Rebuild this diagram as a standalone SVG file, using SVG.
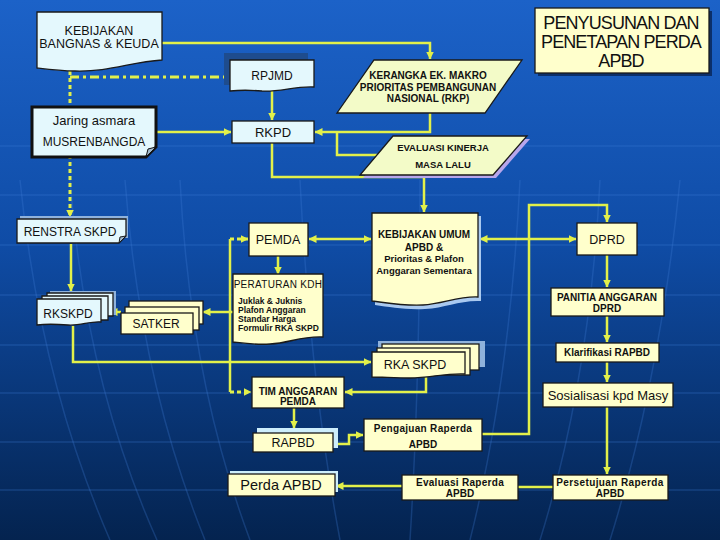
<svg xmlns="http://www.w3.org/2000/svg" width="720" height="540" viewBox="0 0 720 540">
<defs>
<linearGradient id="bgG" x1="0" y1="0" x2="0" y2="1">
<stop offset="0" stop-color="#1c62c8"/>
<stop offset="0.45" stop-color="#0f4ca6"/>
<stop offset="1" stop-color="#04234f"/>
</linearGradient>
<marker id="ah" viewBox="0 0 8 8" refX="7.5" refY="4" markerWidth="8" markerHeight="8" markerUnits="userSpaceOnUse" orient="auto-start-reverse">
<path d="M0,0 L8,4 L0,8 Z" fill="#e2f04a"/>
</marker>
<style>
.cy{fill:#e4f8fd;stroke:#1a1a1a;stroke-width:1.3}
.yl{fill:#ffffcc;stroke:#1a1a1a;stroke-width:1.3}
.pg{fill:#f3fbc8;stroke:#1a1a1a;stroke-width:1.3}
.sh{fill:#8fb2dc;stroke:none}
.shd{fill:#1e4c8e;stroke:none}
.ln{fill:none;stroke:#e2f04a;stroke-width:2.5}
.arr{marker-end:url(#ah)}
.both{marker-start:url(#ah);marker-end:url(#ah)}
.dot{stroke-dasharray:4 3;stroke-width:3}
.dd{stroke-dasharray:9 4 3 4;stroke-width:3}
text{font-family:"Liberation Sans",Arial,sans-serif;fill:#111;text-anchor:middle}
.b{font-weight:bold}
.grid{fill:none;stroke:#3f7fd6;stroke-opacity:0.28;stroke-width:1.5}
.big{font-size:18px;letter-spacing:-0.9px}
</style>
</defs>
<g id="background">
<rect x="0" y="0" width="720" height="540" fill="url(#bgG)"/>
<path class="grid" d="M0,146 H720 M0,195 H720 M0,245 H720 M0,295 H720 M0,345 H720 M0,393 H720 M0,442 H720 M0,490 H720"/>
<path class="grid" d="M20,180 Q40,380 110,540 M70,180 Q85,380 157,540 M125,180 Q140,380 205,540 M180,180 Q190,380 250,540 M300,180 Q310,380 340,540 M420,180 Q420,380 410,540 M520,180 Q510,380 470,540 M600,180 Q590,380 540,540 M680,180 Q660,380 610,540"/>
</g>
<g id="connectors">
<path class="ln arr" d="M162,43 H430 V59"/>
<path class="ln dd" d="M70,77 H230"/>
<path class="ln dot arr" d="M70,71 V217"/>
<path class="ln arr" d="M156,132 H231"/>
<path class="ln arr" d="M272,91 V120"/>
<path class="ln arr" d="M430,113 V132 H315"/>
<path class="ln" d="M378,155 H337 V132"/>
<path class="ln arr" d="M272,143 V177 H424 V212"/>
<path class="ln arr" d="M71,244 V291"/>
<path class="ln arr" d="M121,312 H110"/>
<path class="ln arr" d="M233,312 H203"/>
<path class="ln dot arr" d="M230,239 H248"/>
<path class="ln" d="M230,239 V392"/>
<path class="ln dot arr" d="M230,392 H251"/>
<path class="ln arr" d="M278,256 V274"/>
<path class="ln both" d="M309,239 H371"/>
<path class="ln both" d="M480,239 H576"/>
<path class="ln arr" d="M73,326 V362 H371"/>
<path class="ln arr" d="M426,377 V392 H345"/>
<path class="ln arr" d="M294,408 V428"/>
<path class="ln arr" d="M333,444 H349 V435 H363"/>
<path class="ln arr" d="M482,434 H529 V205 H607 V222"/>
<path class="ln arr" d="M607,255 V287"/>
<path class="ln arr" d="M607,316 V342"/>
<path class="ln arr" d="M607,362 V382"/>
<path class="ln arr" d="M607,407 V474"/>
<path class="ln" d="M553,487 H518"/>
<path class="ln arr" d="M402,486 H336"/>
</g>
<g id="kebijakan-bangnas">
<path class="cy" d="M37,12 H162 V60 C130,62 110,72 75,71 C60,71 45,69 37,68 Z"/>
<text x="99" y="35" font-size="12.5">KEBIJAKAN</text>
<text x="99" y="48" font-size="12.5">BANGNAS &amp; KEUDA</text>
</g>
<g id="rpjmd">
<rect class="shd" x="224" y="53" width="84" height="32"/>
<path class="cy" d="M230,60 H314 V87 C295,86 280,92 262,91 C250,90 240,90 230,91 Z"/>
<text x="272" y="80" font-size="12">RPJMD</text>
</g>
<g id="kerangka">
<path class="pg" d="M374,60 H522 L485,113 H337 Z"/>
<text class="b" x="428" y="79" font-size="10">KERANGKA EK. MAKRO</text>
<text class="b" x="428" y="91" font-size="10">PRIORITAS PEMBANGUNAN</text>
<text class="b" x="428" y="102" font-size="10">NASIONAL (RKP)</text>
</g>
<g id="penyusunan">
<rect x="538" y="11" width="174" height="65" fill="#0b2f6a"/>
<rect class="yl" x="535" y="8" width="174" height="65"/>
<text class="big" x="621" y="29">PENYUSUNAN DAN</text>
<text class="big" x="621" y="48">PENETAPAN PERDA</text>
<text class="big" x="621" y="67">APBD</text>
</g>
<g id="musrenbangda">
<path d="M32,107 H156 V147 L146,157 H32 Z" fill="#e4f8fd" stroke="#111" stroke-width="3"/>
<path d="M146,157 L148,149 L156,147 Z" fill="#9fb9cc" stroke="#111" stroke-width="1"/>
<text x="94" y="125" font-size="13">Jaring  asmara</text>
<text x="94" y="146" font-size="12">MUSRENBANGDA</text>
</g>
<g id="rkpd">
<rect class="cy" x="232" y="121" width="82" height="22"/>
<text x="273" y="137" font-size="13">RKPD</text>
</g>
<g id="evaluasi">
<path d="M396,139 H530 L496,178 H363 Z" fill="#b7a6ec"/>
<path class="pg" d="M393,136 H527 L493,175 H360 Z"/>
<text class="b" x="443" y="151" font-size="9.5">EVALUASI KINERJA</text>
<text class="b" x="443" y="168" font-size="9.5">MASA LALU</text>
</g>
<g id="renstra">
<path class="sh" d="M20,216 H128 V238 H20 Z"/>
<path class="cy" d="M17,219 H126 V236 L119,243 H17 Z"/>
<path d="M119,243 L120,237 L126,236 Z" fill="#9fb9cc" stroke="#1a1a1a" stroke-width="1"/>
<text x="70" y="236" font-size="12">RENSTRA SKPD</text>
</g>
<g id="rkskpd">
<rect class="sh" x="50" y="291" width="66" height="24"/>
<path class="cy" d="M47,293 H113 V316 H47 Z"/>
<path class="cy" d="M42,296 H108 V320 H42 Z"/>
<path class="cy" d="M37,299 H101 V322 C90,321 80,326 68,325 C55,324 45,324 37,325 Z"/>
<text x="68" y="318" font-size="12">RKSKPD</text>
</g>
<g id="satker">
<rect class="yl" x="129" y="301" width="74" height="23"/>
<rect class="yl" x="125" y="307" width="74" height="23"/>
<rect class="yl" x="121" y="313" width="72" height="21"/>
<text x="156" y="328" font-size="12">SATKER</text>
</g>
<g id="pemda">
<rect class="yl" x="249" y="223" width="59" height="33"/>
<text x="278" y="244" font-size="12.5">PEMDA</text>
</g>
<g id="peraturan-kdh">
<path class="yl" d="M233,274 H323 V337 C300,336 290,343 270,344 C255,345 242,343 233,342 Z"/>
<text x="278" y="288" font-size="10" letter-spacing="0.3">PERATURAN KDH</text>
<text class="b" x="238" y="304" font-size="8.5" style="text-anchor:start">Juklak &amp; Juknis</text>
<text class="b" x="238" y="313" font-size="8.5" style="text-anchor:start">Plafon Anggaran</text>
<text class="b" x="238" y="322" font-size="8.5" style="text-anchor:start">Standar Harga</text>
<text class="b" x="238" y="331" font-size="8.5" style="text-anchor:start">Formulir RKA SKPD</text>
</g>
<g id="kebijakan-umum">
<path d="M375,216 H481 V301 C460,300 445,308 425,309 C405,310 390,307 375,305 Z" fill="#a9c9f0"/>
<path class="yl" d="M372,213 H478 V297 C458,296 443,304 423,305 C403,306 388,303 372,301 Z"/>
<text class="b" x="424" y="238" font-size="10">KEBIJAKAN UMUM</text>
<text class="b" x="424" y="251" font-size="10">APBD &amp;</text>
<text class="b" x="424" y="262" font-size="9.5">Prioritas &amp; Plafon</text>
<text class="b" x="424" y="274" font-size="9.5">Anggaran Sementara</text>
</g>
<g id="dprd">
<rect class="yl" x="577" y="223" width="60" height="32"/>
<text x="607" y="244" font-size="12.5">DPRD</text>
</g>
<g id="panitia">
<rect class="yl" x="551" y="288" width="113" height="28"/>
<text class="b" x="607" y="301" font-size="10">PANITIA ANGGARAN</text>
<text class="b" x="607" y="312" font-size="10">DPRD</text>
</g>
<g id="klarifikasi">
<rect class="yl" x="556" y="343" width="103" height="19"/>
<text class="b" x="607" y="356" font-size="10">Klarifikasi RAPBD</text>
</g>
<g id="sosialisasi">
<rect class="yl" x="543" y="383" width="130" height="24"/>
<text x="608" y="400" font-size="13">Sosialisasi kpd Masy</text>
</g>
<g id="rka-skpd">
<rect class="sh" x="378" y="341" width="107" height="26"/>
<rect class="yl" x="382" y="344" width="97" height="26"/>
<rect class="yl" x="377" y="348" width="93" height="27"/>
<path class="yl" d="M372,352 H465 V374 C445,373 430,378 410,378 C395,378 382,377 372,377 Z"/>
<text x="415" y="369" font-size="12.5">RKA SKPD</text>
</g>
<g id="tim-anggaran">
<rect class="yl" x="252" y="377" width="92" height="31"/>
<text class="b" x="298" y="395" font-size="10">TIM ANGGARAN</text>
<text class="b" x="298" y="405" font-size="10">PEMDA</text>
</g>
<g id="rapbd">
<rect x="257" y="428" width="81" height="20" fill="#cdeefc"/>
<rect class="yl" x="253" y="433" width="80" height="19"/>
<text x="293" y="447" font-size="12.5">RAPBD</text>
</g>
<g id="pengajuan">
<rect class="yl" x="364" y="419" width="118" height="32"/>
<text class="b" x="423" y="432" font-size="10" letter-spacing="0.3">Pengajuan Raperda</text>
<text class="b" x="423" y="448" font-size="10">APBD</text>
</g>
<g id="perda-apbd">
<rect x="230" y="471" width="108" height="21" fill="#cdeefc"/>
<rect class="yl" x="228" y="474" width="107" height="22"/>
<text x="281" y="490" font-size="14.5">Perda APBD</text>
</g>
<g id="evaluasi-raperda">
<rect class="yl" x="402" y="475" width="116" height="25"/>
<text class="b" x="460" y="486" font-size="10" letter-spacing="0.3">Evaluasi Raperda</text>
<text class="b" x="460" y="497" font-size="10">APBD</text>
</g>
<g id="persetujuan">
<rect class="yl" x="553" y="475" width="115" height="25"/>
<text class="b" x="610" y="486" font-size="10" letter-spacing="0.4">Persetujuan Raperda</text>
<text class="b" x="610" y="497" font-size="10">APBD</text>
</g>
</svg>
